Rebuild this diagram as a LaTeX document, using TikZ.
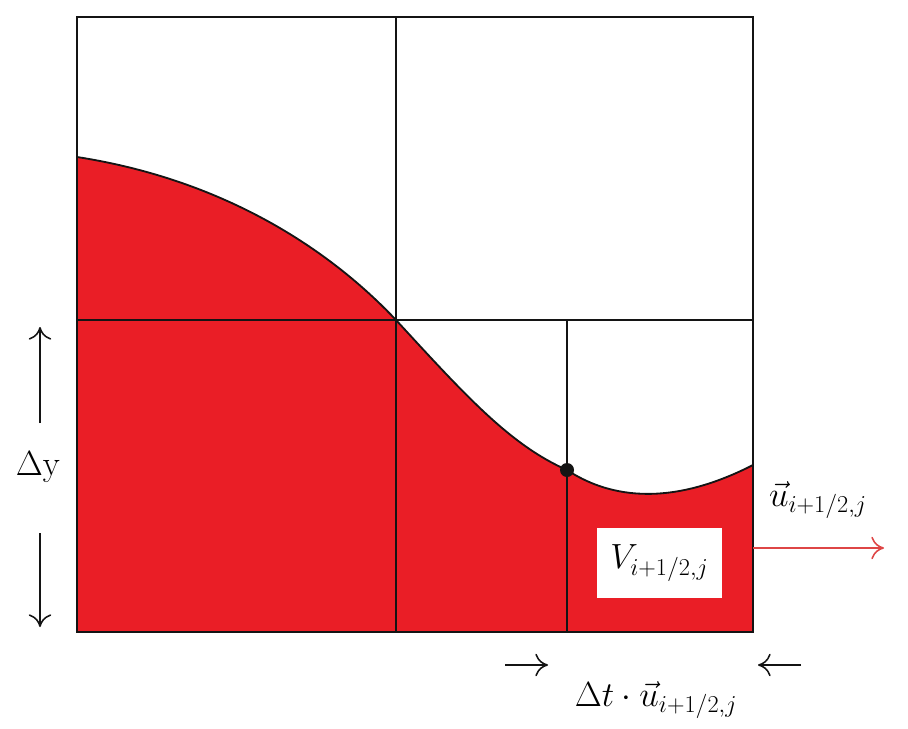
\documentclass[tikz,border=0pt]{standalone}
\usepackage{xcolor}
\usepackage{amsmath}
\usepackage{tikz}
\usetikzlibrary{arrows.meta, positioning, calc}
\definecolor{fluidred}{RGB}{234,30,38}
\definecolor{velred}{RGB}{222,70,70}
\definecolor{mydark}{RGB}{20,20,20}
\tikzset{
  gridline/.style={line width=1.3pt, color=mydark},
  surface/.style={line width=1.3pt, color=mydark},
  volbox/.style={rectangle, draw=none, fill=white, minimum width=3.1cm,
    minimum height=1.75cm, inner sep=0pt, font=\fontsize{27}{30}\selectfont},
  lbl/.style={inner sep=1pt, font=\fontsize{27}{30}\selectfont},
  arrow/.style={-{To[length=9pt,width=16pt]}, line width=1.1pt, color=mydark},
  redarrow/.style={-{To[length=9pt,width=16pt]}, line width=1.1pt, color=velred}
}

\begin{document}
\begin{tikzpicture}[x=0.025cm, y=-0.025cm]
  \useasboundingbox (0,0) rectangle (908,729);
  % cell corners and the free surface points
  \coordinate (ul) at (77,17);
  \coordinate (lr) at (753,632);
  \coordinate (s0) at (77,157);
  \coordinate (s1) at (396,320);
  \coordinate (s2) at (567,470);
  \coordinate (s3) at (753,465);
  % fluid below the surface
  \fill[fluidred] (77,632) -- (s0) .. controls (225,180) and (330,250) .. (s1)
     .. controls (465,395) and (510,445) .. (s2)
     .. controls (605,495) and (665,510) .. (s3) -- (lr) -- cycle;
  \draw[surface] (s0) .. controls (225,180) and (330,250) .. (s1)
     .. controls (465,395) and (510,445) .. (s2)
     .. controls (605,495) and (665,510) .. (s3);
  % grid
  \draw[gridline] (ul) rectangle (lr);
  \draw[gridline] (396,17) -- (396,632);
  \draw[gridline] (77,320) -- (753,320);
  \draw[gridline] (567,320) -- (567,632);
  \fill[mydark] (s2) circle (7);
  % volume label
  \node[volbox] (vol) at (659.5,563) {$V_{i+1/2,j}$};
  % velocity arrow
  \coordinate (va) at (753,548);
  \coordinate (vb) at (884,548);
  \draw[redarrow] (va) -- (vb);
  \node[lbl] (vel) at (818,500) {$\vec{u}_{i+1/2,j}$};
  % cell height
  \node[lbl] (dy) at (38,467) {$\Delta\mathrm{y}$};
  \coordinate (dyup) at (40,423);
  \coordinate (dytop) at (40,327);
  \coordinate (dydown) at (40,533);
  \coordinate (dybot) at (40,627);
  \draw[arrow] (dyup) -- (dytop);
  \draw[arrow] (dydown) -- (dybot);
  % distance travelled in one step
  \coordinate (la) at (505,665);
  \coordinate (lb) at (548,665);
  \coordinate (ra) at (801,665);
  \coordinate (rb) at (758,665);
  \draw[arrow] (la) -- (lb);
  \draw[arrow] (ra) -- (rb);
  \node[lbl] (dist) at (656,700) {$\Delta t\cdot\vec{u}_{i+1/2,j}$};
\end{tikzpicture}
\end{document}
